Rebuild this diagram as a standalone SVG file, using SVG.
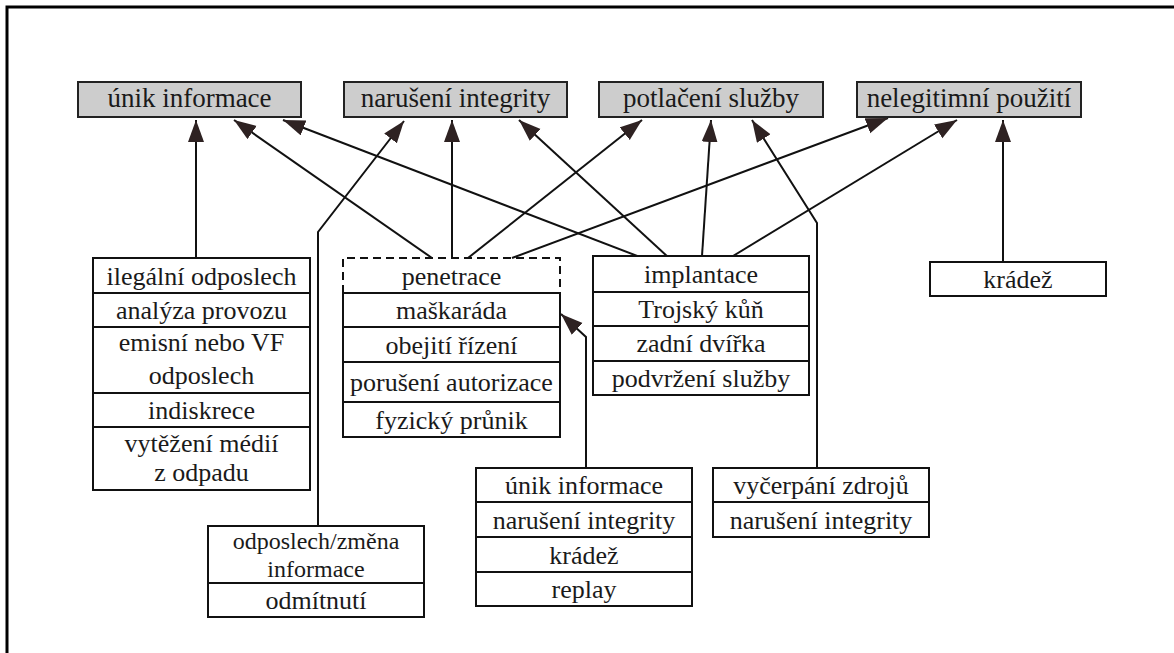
<svg xmlns="http://www.w3.org/2000/svg" width="1174" height="653" viewBox="0 0 1174 653">
<style>
  .bg{fill:#ffffff}
  .frame{stroke:#000;stroke-width:3;fill:none}
  .top rect{fill:#cdcdcd;stroke:#222;stroke-width:2}
  .top text{font-size:27px}
  .box rect{fill:#fff;stroke:#111;stroke-width:2}
  .box line{stroke:#111;stroke-width:2}
  .dash{stroke:#111;stroke-width:2;fill:none;stroke-dasharray:8 5}
  text{font-family:"Liberation Serif","Times New Roman",serif;font-size:26px;fill:#1a1a1a;text-anchor:middle}
  .small{font-size:24px}
  .conn path{stroke:#111;stroke-width:2;fill:none;marker-end:url(#ah)}
</style>
<defs>
  <marker id="ah" markerUnits="userSpaceOnUse" markerWidth="24" markerHeight="18" refX="22" refY="8" orient="auto">
    <path d="M0,0 L22,8 L0,16 Z" fill="#2e2222"/>
  </marker>
</defs>
<rect class="bg" x="0" y="0" width="1174" height="653"/>
<path class="frame" d="M7,653 V7 H1174"/>

<g class="conn" id="connectors">
  <path d="M196,258 V120"/>
  <path d="M432,258 L234,120"/>
  <path d="M640,257 L283,120"/>
  <path d="M318,526 V232 L404,121"/>
  <path d="M452,258 V120"/>
  <path d="M668,257 L519,120"/>
  <path d="M468,258 L642,120"/>
  <path d="M702,256 L711,120"/>
  <path d="M817,468 V223 L752,120"/>
  <path d="M512,258 L888,118"/>
  <path d="M733,256 L957,120"/>
  <path d="M1003,262 V120"/>
  <path d="M586,468 V337 L561,314"/>
</g>

<g id="n-unik" class="top"><rect x="78" y="82" width="223" height="35"/><text x="189.5" y="107">únik informace</text></g>
<g id="n-naruseni" class="top"><rect x="344" y="82" width="223" height="35"/><text x="455.5" y="107">narušení integrity</text></g>
<g id="n-potlaceni" class="top"><rect x="599" y="82" width="224" height="35"/><text x="711" y="107">potlačení služby</text></g>
<g id="n-nelegitimni" class="top"><rect x="857" y="82" width="224" height="35"/><text x="969" y="107">nelegitimní použití</text></g>

<g id="n-odposlech" class="box">
  <rect x="93" y="258" width="217" height="232"/>
  <line x1="93" y1="293" x2="310" y2="293"/>
  <line x1="93" y1="327" x2="310" y2="327"/>
  <line x1="93" y1="393" x2="310" y2="393"/>
  <line x1="93" y1="427" x2="310" y2="427"/>
  <text x="201.5" y="285">ilegální odposlech</text>
  <text x="201.5" y="319">analýza provozu</text>
  <text x="201.5" y="351">emisní nebo VF</text>
  <text x="201.5" y="384">odposlech</text>
  <text x="201.5" y="419">indiskrece</text>
  <text x="201.5" y="452">vytěžení médií</text>
  <text x="201.5" y="481">z odpadu</text>
</g>

<g id="n-penetrace" class="box">
  <path class="dash" d="M343,293 V258 H560 V293"/>
  <rect x="343" y="293" width="217" height="144"/>
  <line x1="343" y1="327" x2="560" y2="327"/>
  <line x1="343" y1="362" x2="560" y2="362"/>
  <line x1="343" y1="402" x2="560" y2="402"/>
  <text x="451.5" y="285">penetrace</text>
  <text x="451.5" y="319">maškaráda</text>
  <text x="451.5" y="354">obejití řízení</text>
  <text x="451.5" y="391">porušení autorizace</text>
  <text x="451.5" y="429">fyzický průnik</text>
</g>

<g id="n-implantace" class="box">
  <rect x="593" y="256" width="216" height="139"/>
  <line x1="593" y1="292" x2="809" y2="292"/>
  <line x1="593" y1="326" x2="809" y2="326"/>
  <line x1="593" y1="361" x2="809" y2="361"/>
  <text x="701" y="283">implantace</text>
  <text x="701" y="318">Trojský kůň</text>
  <text x="701" y="352">zadní dvířka</text>
  <text x="701" y="387">podvržení služby</text>
</g>

<g id="n-kradez" class="box">
  <rect x="930" y="262" width="176" height="34"/>
  <text x="1018" y="288">krádež</text>
</g>

<g id="n-odposlech-zmena" class="box">
  <rect x="208" y="526" width="216" height="91"/>
  <line x1="208" y1="583" x2="424" y2="583"/>
  <text class="small" x="316" y="549">odposlech/změna</text>
  <text class="small" x="316" y="577">informace</text>
  <text x="316" y="609">odmítnutí</text>
</g>

<g id="n-unik-bottom" class="box">
  <rect x="476" y="468" width="216" height="138"/>
  <line x1="476" y1="502" x2="692" y2="502"/>
  <line x1="476" y1="537" x2="692" y2="537"/>
  <line x1="476" y1="572" x2="692" y2="572"/>
  <text x="584" y="494">únik informace</text>
  <text x="584" y="529">narušení integrity</text>
  <text x="584" y="564">krádež</text>
  <text x="584" y="598">replay</text>
</g>

<g id="n-vycerpani" class="box">
  <rect x="713" y="468" width="216" height="69"/>
  <line x1="713" y1="502" x2="929" y2="502"/>
  <text x="821" y="494">vyčerpání zdrojů</text>
  <text x="821" y="529">narušení integrity</text>
</g>
</svg>
